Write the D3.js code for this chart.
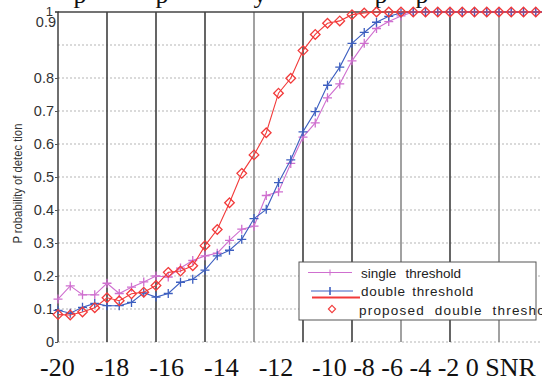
<!DOCTYPE html>
<html>
<head>
<meta charset="utf-8">
<script src="https://cdn.jsdelivr.net/npm/d3@7"></script>
<style>
	html, body { margin: 0; padding: 0; background: #fff; overflow: hidden; }
	#chart svg { display: block; }
</style>
</head>
<body>
<div id="chart"></div>
<script>
// SNR points (dB)
const snr = [
	-20, -19.5, -19, -18.5, -18, -17.5, -17, -16.5, -16, -15.5,
	-15, -14.5, -14, -13.5, -13, -12.5, -12, -11.5, -11, -10.5,
	-10, -9.5, -9, -8.5, -8, -7.5, -7, -6.5, -6, -5.5,
	-5, -4.5, -4, -3.5, -3, -2.5, -2, -1.5, -1, -0.5, 0,
];

const singleThreshold = [
	0.13, 0.17, 0.143, 0.143, 0.178, 0.147, 0.166, 0.182, 0.2, 0.197,
	0.224, 0.247, 0.261, 0.269, 0.308, 0.342, 0.351, 0.444, 0.455, 0.541,
	0.621, 0.664, 0.74, 0.782, 0.852, 0.905, 0.95, 0.971, 0.988, 1,
	1, 1, 1, 1, 1, 1, 1, 1, 1, 1, 1,
];

const doubleThreshold = [
	0.096, 0.087, 0.105, 0.117, 0.11, 0.11, 0.12, 0.149, 0.136, 0.147,
	0.181, 0.19, 0.218, 0.261, 0.278, 0.311, 0.374, 0.402, 0.483, 0.552,
	0.637, 0.698, 0.778, 0.833, 0.905, 0.938, 0.969, 0.987, 0.997, 1,
	1, 1, 1, 1, 1, 1, 1, 1, 1, 1, 1,
];

const proposedDouble = [
	0.083, 0.082, 0.091, 0.104, 0.134, 0.125, 0.146, 0.151, 0.171, 0.211,
	0.215, 0.231, 0.292, 0.341, 0.422, 0.511, 0.567, 0.634, 0.754, 0.799,
	0.883, 0.932, 0.966, 0.973, 0.992, 0.997, 1, 1, 1, 1,
	1, 1, 1, 1, 1, 1, 1, 1, 1, 1, 1,
];

const seriesNames = ['single threshold', 'double threshold', 'proposed double threshold'];
const yTickValues = [0, 0.1, 0.2, 0.3, 0.4, 0.5, 0.6, 0.7, 0.8];
const yTopLabels = ['1', '0.9'];
const yGridValues = [0, 0.1, 0.2, 0.3, 0.4, 0.5, 0.6, 0.7, 0.8, 0.9];
const xGridValues = [-18, -16, -14, -12, -10, -8, -6, -4, -2];
const xLabels = ['-20', '-18', '-16', '-14', '-12', '-10', '-8', '-6', '-4', '-2', '0', 'SNR'];
const yTitle = 'P robability of detec tion';
const captionBits = ['p', 'p', 'y', 'p', 'p'];

const width = 542;
const height = 379;
const margin = { top: 12, right: -6, bottom: 37, left: 58 };

const svg = d3.select('#chart').append('svg')
	.attr('width', width)
	.attr('height', height);

const xScale = d3.scaleLinear()
	.domain([-20, 0])
	.range([margin.left, width - margin.right]);

const yScale = d3.scaleLinear()
	.domain([0, 1])
	.range([height - margin.bottom, margin.top]);

const sans = '"Liberation Sans", Arial, sans-serif';
const serif = '"Liberation Serif", "Times New Roman", serif';

// bottom of the caption line above the figure, cut by the crop
svg.append('g')
	.selectAll('text')
	.data(captionBits)
	.enter().append('text')
		.attr('x', (d, i) => [80, 162, 260, 381, 422][i])
		.attr('y', 3)
		.attr('text-anchor', 'middle')
		.style('font-family', serif)
		.style('font-size', '26px')
		.style('fill', '#111')
		.text((d) => d);

// horizontal dotted grid
svg.append('g')
	.selectAll('line')
	.data(yGridValues)
	.enter().append('line')
		.attr('x1', margin.left)
		.attr('x2', width)
		.attr('y1', (d) => yScale(d))
		.attr('y2', (d) => yScale(d))
		.attr('stroke', '#b5b5b5')
		.attr('stroke-width', 1)
		.attr('stroke-dasharray', '2,2');

// vertical grid
svg.append('g')
	.selectAll('line')
	.data(xGridValues)
	.enter().append('line')
		.attr('x1', (d) => xScale(d))
		.attr('x2', (d) => xScale(d))
		.attr('y1', yScale(1))
		.attr('y2', yScale(0))
		.attr('stroke', (d) => (d === -12 || d === -2 || d === -6) ? '#8a8a8a' : '#3f3f3f')
		.attr('stroke-width', 1.6);

// top border
svg.append('line')
	.attr('x1', margin.left)
	.attr('x2', width)
	.attr('y1', yScale(1))
	.attr('y2', yScale(1))
	.attr('stroke', '#444')
	.attr('stroke-width', 1.4);

// y axis
const yAxis = svg.append('g')
	.attr('transform', `translate(${margin.left},0)`)
	.call(d3.axisLeft(yScale)
		.tickValues(yTickValues)
		.tickSize(3)
		.tickPadding(1)
		.tickFormat((d) => d === 0 ? '0' : d3.format('.1f')(d)));
yAxis.select('.domain')
	.attr('d', `M-3,${yScale(1)}H0V${yScale(0)}`)
	.attr('stroke', '#333')
	.attr('stroke-width', 1.4);
yAxis.selectAll('.tick line').attr('stroke', '#555');
yAxis.selectAll('.tick text')
	.style('font-family', sans)
	.style('font-size', '14.5px')
	.style('fill', '#333');

svg.append('g')
	.selectAll('text')
	.data(yTopLabels)
	.enter().append('text')
		.attr('x', (d) => d === '1' ? 53 : 56)
		.attr('y', (d, i) => yScale(1) + (i === 0 ? 4 : 15))
		.attr('text-anchor', 'end')
		.style('font-family', sans)
		.style('font-size', (d) => d === '1' ? '13px' : '14.5px')
		.style('fill', '#333')
		.text((d) => d);

// y title
svg.append('text')
	.attr('transform', `translate(22,${yScale(0.48)}) rotate(-90)`)
	.attr('text-anchor', 'middle')
	.attr('textLength', 120)
	.attr('lengthAdjust', 'spacingAndGlyphs')
	.style('font-family', sans)
	.style('font-size', '13.5px')
	.style('fill', '#333')
	.text(yTitle);

// x labels row (pasted-in serif labels)
const xRow = svg.append('g')
	.style('font-family', serif)
	.style('font-size', '26px')
	.style('fill', '#111');
xRow.append('text')
	.attr('x', 40)
	.attr('y', 376)
	.style('word-spacing', '13.5px')
	.text(xLabels.slice(0, 5).join(' '));
xRow.append('text')
	.attr('x', 312)
	.attr('y', 376)
	.text(xLabels.slice(5).join(' '));

// series
const plusPath = 'M-4.5,0H4.5M0,-4.5V4.5';
const diamondPath = 'M0,-4.8L4.8,0L0,4.8L-4.8,0Z';

const series = [
	{ name: seriesNames[0], values: singleThreshold, color: '#cf6fcf', marker: plusPath },
	{ name: seriesNames[1], values: doubleThreshold, color: '#3d5fc0', marker: plusPath },
	{ name: seriesNames[2], values: proposedDouble, color: '#f23a3a', marker: diamondPath },
];

const line = d3.line()
	.x((d) => xScale(d[0]))
	.y((d) => yScale(d[1]));

const plot = svg.append('g');
series.forEach((s) => {
	const pts = snr.map((v, i) => [v, s.values[i]]);
	plot.append('path')
		.datum(pts)
		.attr('fill', 'none')
		.attr('stroke', s.color)
		.attr('stroke-width', 1.1)
		.attr('d', line);
	plot.selectAll(null)
		.data(pts)
		.enter().append('path')
			.attr('transform', (d) => `translate(${xScale(d[0])},${yScale(d[1])})`)
			.attr('d', s.marker)
			.attr('fill', 'none')
			.attr('stroke', s.color)
			.attr('stroke-width', 1.3);
});

// legend
const legend = svg.append('g').attr('transform', 'translate(299,262)');
legend.append('rect')
	.attr('width', 237)
	.attr('height', 58)
	.attr('fill', '#fff');

// the scanned legend text is spaced a bit differently on each row
const rowLetter = [0, 0.7, 1.2];
const rowWord = [5.5, 2, 5];
const legendText = legend.append('g')
	.style('font-family', sans)
	.style('font-size', '13.5px')
	.style('fill', '#222');
legendText.selectAll('text')
	.data(seriesNames)
	.enter().append('text')
		.attr('x', (d, i) => i === 2 ? 60 : 62)
		.attr('y', (d, i) => 15.5 + i * 18.5)
		.style('letter-spacing', (d, i) => `${rowLetter[i]}px`)
		.style('word-spacing', (d, i) => `${rowWord[i]}px`)
		.text((d) => d);

// legend samples
legend.append('line')
	.attr('x1', 9).attr('x2', 53).attr('y1', 10.5).attr('y2', 10.5)
	.attr('stroke', series[0].color).attr('stroke-width', 1);
legend.append('path')
	.attr('transform', 'translate(31,10.5)')
	.attr('d', 'M0,-3V3')
	.attr('stroke', series[0].color).attr('stroke-width', 1);
legend.append('line')
	.attr('x1', 12).attr('x2', 54).attr('y1', 29).attr('y2', 29)
	.attr('stroke', series[1].color).attr('stroke-width', 1);
legend.append('path')
	.attr('transform', 'translate(31,29)')
	.attr('d', 'M0,-4V4')
	.attr('stroke', series[1].color).attr('stroke-width', 1.6);
legend.append('line')
	.attr('x1', 13).attr('x2', 61).attr('y1', 35.5).attr('y2', 35.5)
	.attr('stroke', series[2].color).attr('stroke-width', 1.8);
legend.append('path')
	.attr('transform', 'translate(33,47)')
	.attr('d', 'M0,-3.6L3.6,0L0,3.6L-3.6,0Z')
	.attr('fill', 'none')
	.attr('stroke', series[2].color).attr('stroke-width', 1.1);

legend.append('rect')
	.attr('width', 237)
	.attr('height', 58)
	.attr('fill', 'none')
	.attr('stroke', '#555')
	.attr('stroke-width', 1);
</script>
</body>
</html>
